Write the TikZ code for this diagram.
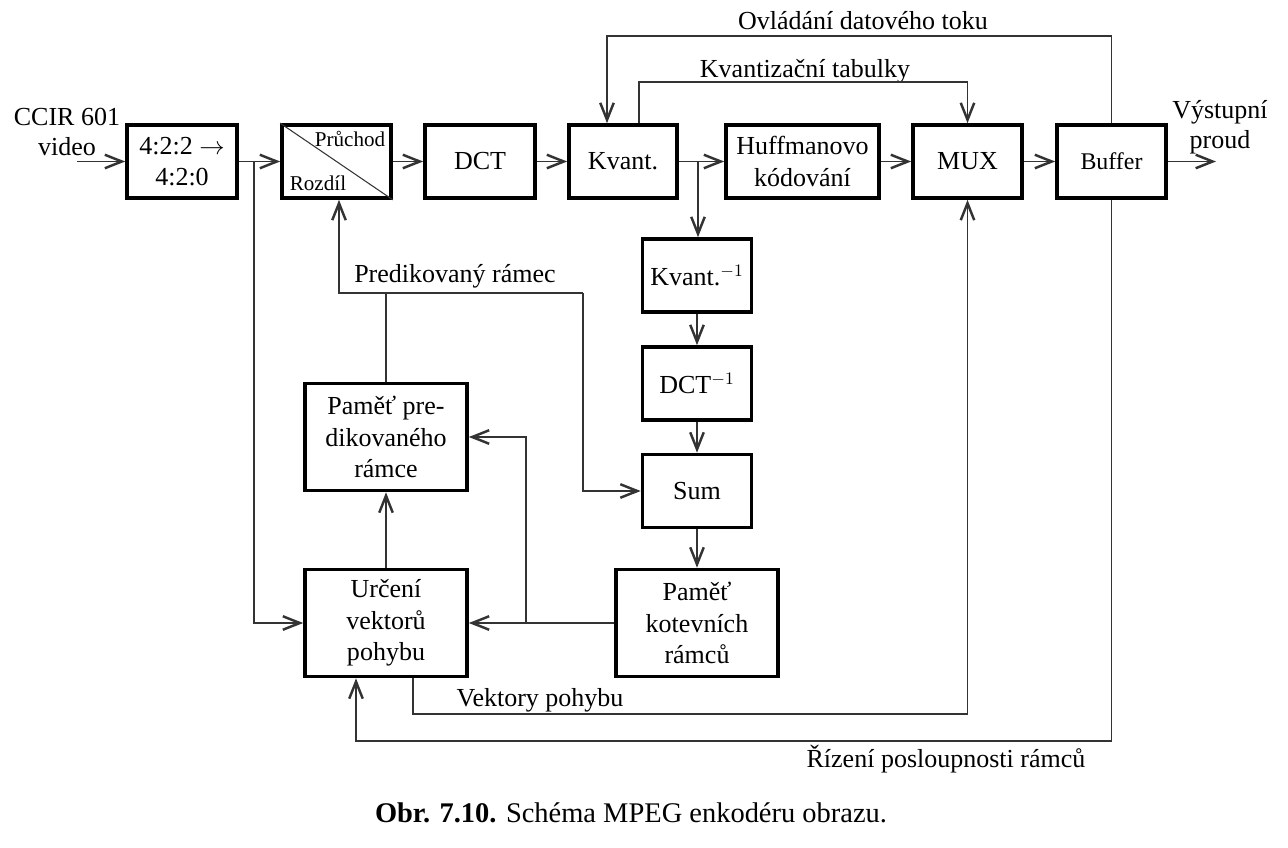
\documentclass[tikz,border=0pt]{standalone}
\usepackage{fontspec}
\setmainfont{Liberation Serif}
\usepackage{tikz}
\usetikzlibrary{
	arrows.meta,
	calc,
	positioning,
}
\tikzset{block/.style={draw=black,text=black,rectangle,line width=2.1pt,minimum width=2.2cm,minimum height=1.46cm,inner sep=0mm,align=center,font=\fontsize{14.8}{17.9}\selectfont,}}
\tikzset{wide block/.style={block,minimum width=3.24cm,minimum height=2.14cm,}}
\tikzset{lbl/.style={draw=none,text=black,inner sep=0mm,align=center,font=\fontsize{14.8}{17}\selectfont,}}
\tikzset{small lbl/.style={lbl,font=\fontsize{12}{14}\selectfont,}}
\tikzset{sig/.style={line width=0.6pt,black!80,}}
\tikzset{
	>={Straight Barb[length=3.4mm,width=2.7mm,line width=1.4pt]},
}

\begin{document}
\begin{tikzpicture}[x=0.02cm,y=-0.02cm,sig]
\useasboundingbox (0,0) rectangle (1288,848);

% horni rada
\node[block](conv) at(182,161.5) {4:2:2 $\rightarrow$\\4:2:0};
\node[block,minimum width=2.18cm](sel) at(336.5,161.5) {};
\node[block](dct) at(480,161.5) {DCT};
\node[block,minimum width=2.16cm](kv) at(623,161.5) {Kvant.};
\node[block,minimum width=3.06cm](huf) at(802.5,161.5) {Huffmanovo\\kódování};
\node[block,minimum width=2.18cm](mux) at(967.5,161.5) {MUX};
\node[block,minimum width=2.18cm,font=\fontsize{13.6}{16}\selectfont](buf) at(1111.5,161.5) {Buffer};

\draw (sel.north west) -- (sel.south east);
\node[small lbl](pas) at(350,139) {Průchod};
\node[small lbl](diff) at(318,183) {Rozdíl};

% zpetna vazba
\node[block,minimum width=2.18cm](ikv) at(697,275.5) {Kvant.$^{-1}$};
\node[block,minimum width=2.18cm](idct) at(697,383.5) {DCT$^{-1}$};
\node[block,minimum width=2.18cm](sum) at(697,491) {Sum};
\node[wide block](kot) at(697,623) {Paměť\\kotevních\\rámců};
\node[wide block](pam) at(386,437) {Paměť pre-\\dikovaného\\rámce};
\node[wide block](urc) at(386,623) {Určení\\vektorů\\pohybu};

% popisky
\node[lbl](ccir) at(67,132) {CCIR 601\\video};
\node[lbl](vyst) at(1220,127) {Výstupní\\proud};
\node[lbl,anchor=base](ovl) at(863,30) {Ovládání datového toku};
\node[lbl,anchor=base](tab) at(805,78) {Kvantizační tabulky};
\node[lbl,anchor=base](pred) at(455,282) {Predikovaný rámec};
\node[lbl,anchor=base](vek) at(540,706) {Vektory pohybu};
\node[lbl,anchor=base](riz) at(946,767) {Řízení posloupnosti rámců};
\node[lbl,anchor=base,font=\fontsize{16.2}{19}\selectfont](cap) at(631,822) {\textbf{Obr. 7.10.} Schéma MPEG enkodéru obrazu.};

\coordinate(in) at(77,161.5);
\coordinate(out) at(1216,161.5);
\coordinate(b1) at(254,161.5);
\coordinate(b2) at(698,161.5);
\coordinate(b3) at(526,623);
\coordinate(o2) at(607,36);
\coordinate(k1) at(639,82);
\coordinate(p1) at(339,293);
\coordinate(p2) at(583,293);
\coordinate(v1) at(413,714);
\coordinate(r1) at(356,741);

\draw[->] (in) -- (conv);
\draw[->] (conv) -- (sel);
\draw[->] (sel) -- (dct);
\draw[->] (dct) -- (kv);
\draw[->] (kv) -- (huf);
\draw[->] (huf) -- (mux);
\draw[->] (mux) -- (buf);
\draw[->] (buf) -- (out);

\draw[->] (b1) |- (urc.west);
\draw[->] (b2) -- (b2 |- ikv.north);
\draw[->] (ikv) -- (idct);
\draw[->] (idct) -- (sum);
\draw[->] (sum) -- (kot);

\draw[->] (buf.north) |- (o2) -- (o2 |- kv.north);
\draw[->] (k1 |- kv.north) -- (k1) -| (mux.north);

\draw[->] (p2) -- (p1) -- (p1 |- sel.south);
\draw[->] (p2) |- (sum.west);
\draw (pam.north) -- (pam.north |- p1);

\draw[->] (kot.west) -- (urc.east);
\draw[->] (b3) |- (pam.east);
\draw[->] (urc) -- (pam);

\draw[->] (v1 |- urc.south) -- (v1) -| (mux.south);
\draw[->] (buf.south) |- (r1) -- (r1 |- urc.south);

\end{tikzpicture}
\end{document}
